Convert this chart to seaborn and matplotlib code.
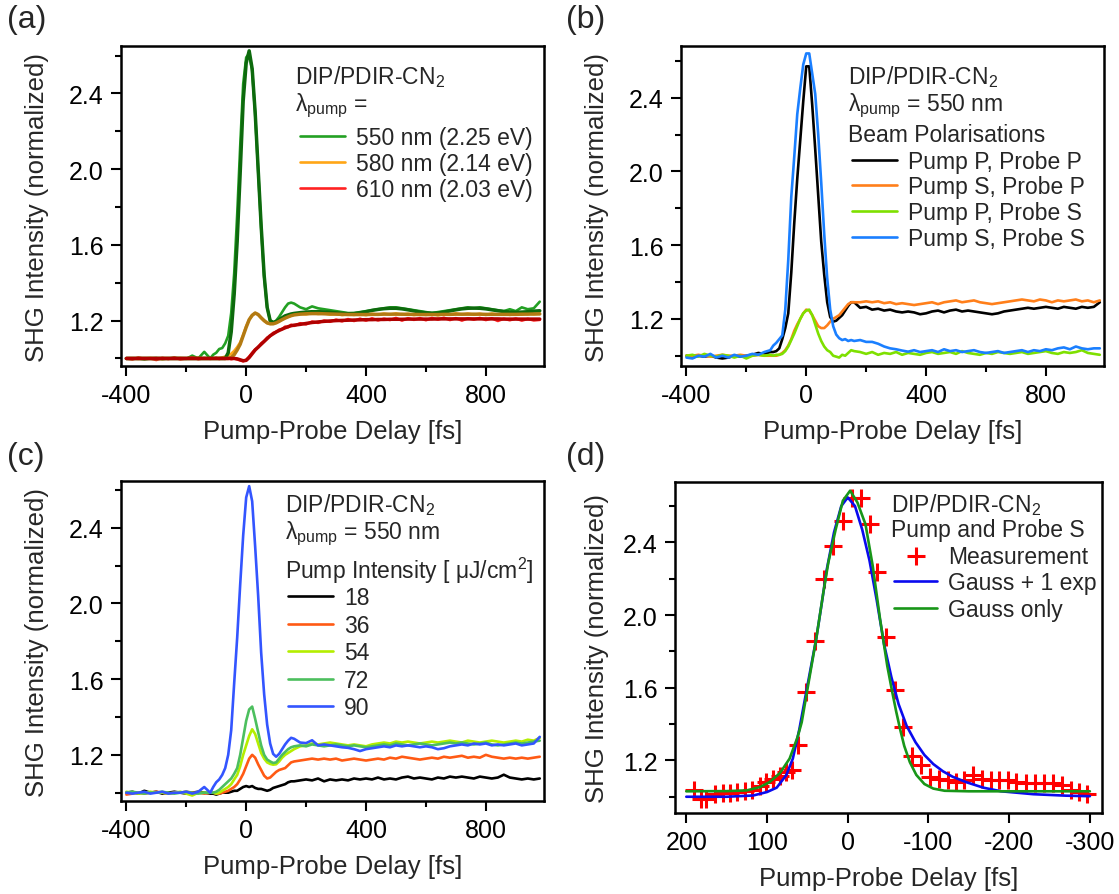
import numpy as np
import matplotlib
matplotlib.use("Agg")
import matplotlib.pyplot as plt
import seaborn as sns
from matplotlib.ticker import MultipleLocator, FormatStrFormatter

sns.set_style("ticks")
plt.rcParams["font.family"] = ["Liberation Sans", "DejaVu Sans"]
plt.rcParams["mathtext.fontset"] = "custom"
plt.rcParams["mathtext.rm"] = "Liberation Sans"
plt.rcParams["mathtext.it"] = "Liberation Sans:italic"
plt.rcParams["mathtext.default"] = "regular"
plt.rcParams["axes.unicode_minus"] = False

# delay grid of the measured traces (fs)
delay = np.concatenate([np.arange(-400, -119, 20),
                        np.arange(-110, 151, 10),
                        np.arange(160, 981, 20)])

# ---- (a) pump wavelength ----
a550_meas = ([1.0, 0.998, 1.0, 0.995, 1.0, 1.002, 0.997, 1.0, 1.003, 1.0, 0.998, 1.015, 1.0, 1.035, 1.0]
             + [1.02, 1.03, 1.05, 1.055, 1.08, 1.12, 1.24, 1.45, 1.76, 2.12, 2.45, 2.59, 2.61, 2.52, 2.29,
                1.99, 1.69, 1.43, 1.27, 1.2, 1.19, 1.2, 1.22, 1.245, 1.27, 1.29, 1.295]
             + [1.29, 1.27, 1.26, 1.275, 1.265, 1.26, 1.255, 1.25, 1.245, 1.24,
                1.24, 1.245, 1.25, 1.255, 1.26, 1.265, 1.27, 1.27, 1.265, 1.26,
                1.255, 1.25, 1.245, 1.24, 1.245, 1.25, 1.255, 1.26, 1.265, 1.27,
                1.265, 1.27, 1.265, 1.26, 1.255, 1.25, 1.26, 1.25, 1.27, 1.26, 1.265, 1.30])
a550_fit = ([1.0] * 15
            + [1.0, 1.0, 1.0, 1.0, 1.0, 1.03, 1.14, 1.34, 1.62, 1.98, 2.36, 2.56, 2.625, 2.53, 2.3,
               2.0, 1.7, 1.44, 1.27, 1.2, 1.19, 1.195, 1.205, 1.215, 1.225, 1.23, 1.235]
            + [1.238, 1.242, 1.245, 1.247, 1.247, 1.246, 1.244, 1.241, 1.238, 1.236,
               1.237, 1.241, 1.247, 1.254, 1.259, 1.263, 1.265, 1.265, 1.262, 1.257,
               1.251, 1.245, 1.241, 1.239, 1.24, 1.245, 1.251, 1.257, 1.262, 1.265,
               1.266, 1.265, 1.262, 1.257, 1.252, 1.248, 1.245, 1.244, 1.245, 1.247, 1.25, 1.252])
a580_meas = ([1.0, 1.0, 0.998, 1.0, 1.002, 1.0, 0.997, 1.0, 1.0, 1.002, 1.0, 1.0, 1.003, 1.0, 1.0]
             + [1.0, 1.0, 1.002, 1.005, 1.01, 1.015, 1.025, 1.04, 1.06, 1.085, 1.125, 1.17, 1.205, 1.228, 1.24,
                1.232, 1.214, 1.198, 1.187, 1.183, 1.184, 1.19, 1.197, 1.206, 1.214, 1.22, 1.226]
             + [1.232, 1.236, 1.233, 1.24, 1.235, 1.238, 1.232, 1.236, 1.229, 1.234,
                1.23, 1.235, 1.229, 1.236, 1.231, 1.237, 1.232, 1.238, 1.231, 1.236,
                1.229, 1.235, 1.23, 1.236, 1.228, 1.235, 1.231, 1.238, 1.232, 1.237,
                1.231, 1.236, 1.23, 1.237, 1.232, 1.238, 1.23, 1.236, 1.232, 1.239, 1.233, 1.238])
a580_fit = ([1.0] * 15
            + [1.0, 1.0, 1.0, 1.0, 1.0, 1.0, 1.005, 1.02, 1.045, 1.075, 1.12, 1.165, 1.205, 1.228, 1.24,
               1.232, 1.215, 1.2, 1.188, 1.183, 1.183, 1.188, 1.196, 1.205, 1.213, 1.22, 1.226]
            + [1.23, 1.234, 1.236, 1.237, 1.237, 1.236, 1.235, 1.234, 1.233, 1.232,
               1.232, 1.232, 1.232, 1.233, 1.233, 1.234, 1.234, 1.234, 1.234, 1.233,
               1.233, 1.232, 1.232, 1.232, 1.232, 1.233, 1.233, 1.234, 1.234, 1.234,
               1.234, 1.234, 1.233, 1.233, 1.233, 1.233, 1.233, 1.233, 1.234, 1.234, 1.235, 1.235])
a610_meas = ([1.0, 0.995, 1.005, 0.998, 1.0, 0.992, 1.003, 0.997, 1.005, 0.995, 1.0, 1.006, 0.996, 1.002, 0.998]
             + [1.0, 1.004, 0.997, 1.002, 0.998, 1.003, 0.996, 1.0, 0.995, 0.99, 0.985, 0.993, 1.01, 1.03, 1.048,
                1.058, 1.08, 1.092, 1.11, 1.118, 1.135, 1.14, 1.152, 1.155, 1.168, 1.165, 1.178]
             + [1.172, 1.186, 1.18, 1.195, 1.188, 1.2, 1.194, 1.205, 1.196, 1.208,
                1.198, 1.21, 1.2, 1.212, 1.201, 1.21, 1.203, 1.214, 1.2, 1.212,
                1.204, 1.213, 1.202, 1.214, 1.205, 1.215, 1.203, 1.213, 1.2, 1.212,
                1.205, 1.214, 1.203, 1.212, 1.198, 1.21, 1.202, 1.211, 1.2, 1.209, 1.201, 1.204])
a610_fit = ([1.0] * 15
            + [1.0, 1.0, 1.0, 1.0, 1.0, 1.0, 1.0, 1.0, 0.998, 0.993, 0.988, 0.99, 1.005, 1.025, 1.045,
               1.06, 1.075, 1.09, 1.105, 1.12, 1.13, 1.14, 1.148, 1.155, 1.162, 1.168, 1.173]
            + [1.176, 1.18, 1.185, 1.19, 1.193, 1.196, 1.198, 1.2, 1.201, 1.202,
               1.203, 1.204, 1.205, 1.205, 1.206, 1.206, 1.207, 1.207, 1.207, 1.208,
               1.208, 1.208, 1.208, 1.208, 1.209, 1.209, 1.209, 1.209, 1.209, 1.209,
               1.209, 1.209, 1.209, 1.209, 1.209, 1.208, 1.208, 1.208, 1.208, 1.208, 1.208, 1.208])
a_labels = ["550 nm (2.25 eV)", "580 nm (2.14 eV)", "610 nm (2.03 eV)"]

# ---- (b) beam polarisations ----
b_pp = ([1.0, 0.99, 1.0, 0.995, 1.0, 0.99, 0.985, 0.99, 1.0, 0.995, 1.0, 1.005, 1.015, 1.01, 1.02]
        + [1.02, 1.025, 1.04, 1.09, 1.15, 1.23, 1.45, 1.72, 1.96, 2.17, 2.38, 2.57, 2.57, 2.36, 2.12,
           1.87, 1.62, 1.44, 1.29, 1.21, 1.185, 1.19, 1.205, 1.22, 1.245, 1.27, 1.29]
        + [1.29, 1.26, 1.265, 1.25, 1.255, 1.245, 1.25, 1.24, 1.235, 1.24,
           1.235, 1.225, 1.23, 1.24, 1.245, 1.235, 1.245, 1.25, 1.24, 1.245,
           1.24, 1.235, 1.23, 1.225, 1.23, 1.24, 1.245, 1.25, 1.255, 1.26,
           1.255, 1.26, 1.265, 1.26, 1.255, 1.265, 1.26, 1.255, 1.265, 1.26, 1.265, 1.29])
b_sp = ([1.0, 1.0, 1.005, 1.0, 0.995, 1.0, 1.005, 1.0, 1.0, 1.005, 1.0, 1.0, 1.005, 1.0, 1.0]
        + [1.0, 1.0, 1.005, 1.015, 1.03, 1.055, 1.09, 1.135, 1.17, 1.2, 1.23, 1.25, 1.245, 1.22, 1.19,
           1.16, 1.15, 1.15, 1.165, 1.185, 1.2, 1.21, 1.22, 1.24, 1.26, 1.28, 1.29]
        + [1.29, 1.29, 1.295, 1.29, 1.295, 1.285, 1.29, 1.28, 1.285, 1.28,
           1.275, 1.28, 1.285, 1.29, 1.28, 1.29, 1.295, 1.3, 1.29, 1.295,
           1.3, 1.29, 1.285, 1.28, 1.285, 1.29, 1.295, 1.3, 1.305, 1.3,
           1.295, 1.305, 1.3, 1.29, 1.3, 1.295, 1.3, 1.305, 1.295, 1.3, 1.29, 1.3])
b_ps = ([1.0, 1.005, 0.995, 1.01, 1.0, 0.995, 1.005, 1.0, 0.99, 1.0, 0.985, 1.0, 1.005, 1.0, 1.005]
        + [1.0, 1.005, 1.005, 1.01, 1.025, 1.05, 1.085, 1.12, 1.16, 1.2, 1.23, 1.245, 1.25, 1.22, 1.17,
           1.12, 1.08, 1.05, 1.03, 1.02, 1.0, 0.995, 0.99, 1.005, 1.0, 1.015, 1.03]
        + [1.025, 1.02, 1.01, 1.02, 1.005, 1.015, 1.01, 1.02, 1.005, 1.015,
           1.01, 1.005, 1.015, 1.02, 1.01, 1.015, 1.02, 1.01, 1.025, 1.015,
           1.01, 1.005, 1.015, 1.01, 1.02, 1.015, 1.01, 1.015, 1.02, 1.01,
           1.015, 1.02, 1.025, 1.015, 1.01, 1.02, 1.015, 1.02, 1.03, 1.015, 1.01, 1.005])
b_ss = ([0.99, 0.985, 1.0, 0.995, 1.01, 0.99, 1.0, 0.99, 1.005, 0.995, 1.0, 1.01, 1.005, 1.02, 1.03]
        + [1.055, 1.07, 1.09, 1.11, 1.25, 1.52, 1.86, 2.08, 2.31, 2.45, 2.58, 2.64, 2.64, 2.53, 2.42,
           2.2, 1.94, 1.66, 1.42, 1.25, 1.16, 1.115, 1.095, 1.085, 1.09, 1.08, 1.085]
        + [1.08, 1.085, 1.075, 1.075, 1.065, 1.05, 1.04, 1.035, 1.028, 1.022,
           1.03, 1.02, 1.025, 1.03, 1.02, 1.035, 1.025, 1.03, 1.02, 1.025,
           1.03, 1.02, 1.015, 1.02, 1.025, 1.015, 1.02, 1.025, 1.03, 1.02,
           1.03, 1.025, 1.035, 1.03, 1.04, 1.045, 1.035, 1.05, 1.04, 1.035, 1.04, 1.04])
b_labels = ["Pump P, Probe P", "Pump S, Probe P", "Pump P, Probe S", "Pump S, Probe S"]

# ---- (c) pump intensity ----
c18 = ([1.0, 1.005, 0.995, 1.01, 1.0, 1.005, 0.995, 1.0, 1.005, 1.0, 0.995, 1.0, 1.005, 1.0, 0.995]
       + [0.995, 0.99, 0.995, 1.0, 1.0, 1.0, 1.005, 1.01, 1.01, 1.02, 1.03, 1.035, 1.03, 1.035, 1.025,
          1.02, 1.02, 1.015, 1.01, 1.015, 1.025, 1.03, 1.035, 1.04, 1.045, 1.055, 1.06]
       + [1.06, 1.065, 1.07, 1.065, 1.075, 1.06, 1.07, 1.065, 1.07, 1.065,
          1.075, 1.07, 1.075, 1.07, 1.08, 1.07, 1.075, 1.07, 1.08, 1.085,
          1.075, 1.08, 1.075, 1.07, 1.08, 1.075, 1.085, 1.08, 1.085, 1.08,
          1.075, 1.085, 1.08, 1.075, 1.08, 1.095, 1.08, 1.075, 1.07, 1.075, 1.07, 1.075])
c36 = ([0.99, 0.995, 1.0, 0.995, 1.0, 1.005, 1.0, 0.995, 1.0, 1.0, 1.005, 1.0, 1.0, 0.995, 1.0]
       + [1.0, 0.995, 0.995, 1.0, 1.005, 1.01, 1.02, 1.03, 1.045, 1.07, 1.1, 1.14, 1.18, 1.2, 1.185,
          1.15, 1.12, 1.09, 1.075, 1.08, 1.095, 1.11, 1.12, 1.125, 1.13, 1.145, 1.16]
       + [1.165, 1.17, 1.175, 1.18, 1.175, 1.18, 1.175, 1.18, 1.17, 1.175,
          1.18, 1.175, 1.17, 1.175, 1.18, 1.175, 1.185, 1.18, 1.19, 1.185,
          1.18, 1.175, 1.18, 1.185, 1.18, 1.19, 1.185, 1.19, 1.195, 1.185,
          1.19, 1.185, 1.2, 1.19, 1.185, 1.18, 1.185, 1.18, 1.185, 1.18, 1.185, 1.19])
c54 = ([1.005, 1.0, 0.995, 1.0, 1.005, 1.0, 1.0, 0.995, 1.0, 1.005, 0.995, 0.985, 1.0, 1.0, 1.0]
       + [1.0, 0.995, 1.0, 1.01, 1.02, 1.03, 1.045, 1.07, 1.094, 1.14, 1.2, 1.25, 1.3, 1.335, 1.31,
          1.26, 1.21, 1.18, 1.16, 1.152, 1.148, 1.15, 1.165, 1.185, 1.2, 1.21, 1.22]
       + [1.23, 1.245, 1.25, 1.26, 1.255, 1.26, 1.265, 1.26, 1.255, 1.25,
          1.255, 1.25, 1.245, 1.255, 1.26, 1.265, 1.26, 1.27, 1.265, 1.27,
          1.265, 1.26, 1.265, 1.27, 1.265, 1.27, 1.275, 1.27, 1.265, 1.275,
          1.27, 1.265, 1.27, 1.275, 1.27, 1.265, 1.27, 1.275, 1.27, 1.28, 1.275, 1.29])
c72 = ([1.0, 1.005, 1.0, 0.995, 1.0, 1.0, 1.005, 1.0, 0.995, 1.0, 1.005, 1.0, 0.995, 1.0, 1.0]
       + [1.0, 1.005, 1.015, 1.03, 1.045, 1.06, 1.075, 1.1, 1.13, 1.2, 1.29, 1.38, 1.44, 1.455, 1.39,
          1.32, 1.25, 1.2, 1.175, 1.165, 1.157, 1.16, 1.18, 1.2, 1.215, 1.23, 1.24]
       + [1.245, 1.25, 1.245, 1.255, 1.25, 1.245, 1.25, 1.255, 1.25, 1.245,
          1.25, 1.245, 1.24, 1.245, 1.25, 1.255, 1.25, 1.26, 1.255, 1.25,
          1.255, 1.26, 1.255, 1.25, 1.255, 1.26, 1.265, 1.26, 1.265, 1.26,
          1.255, 1.26, 1.265, 1.255, 1.25, 1.255, 1.26, 1.265, 1.26, 1.265, 1.27, 1.275])
c90 = ([1.0, 0.995, 1.0, 1.005, 0.995, 1.0, 1.005, 0.995, 1.0, 1.0, 1.005, 0.995, 1.005, 1.03, 1.0]
       + [1.03, 1.055, 1.07, 1.094, 1.13, 1.2, 1.33, 1.58, 1.82, 2.1, 2.36, 2.56, 2.62, 2.54, 2.3,
          2.04, 1.74, 1.52, 1.36, 1.26, 1.205, 1.19, 1.205, 1.23, 1.255, 1.275, 1.29]
       + [1.285, 1.265, 1.262, 1.277, 1.25, 1.255, 1.25, 1.245, 1.24, 1.237,
          1.23, 1.22, 1.23, 1.235, 1.24, 1.245, 1.24, 1.25, 1.245, 1.25,
          1.245, 1.24, 1.245, 1.24, 1.23, 1.235, 1.245, 1.25, 1.255, 1.25,
          1.26, 1.255, 1.26, 1.25, 1.255, 1.25, 1.255, 1.26, 1.25, 1.255, 1.26, 1.295])
c_labels = ["18", "36", "54", "72", "90"]

# ---- (d) fit of the pump S / probe S trace ----
d_meas_x = [191, 182, 175, 165, 155, 146, 137, 127, 118, 109, 101, 93, 84, 77, 69, 62, 52, 41, 30,
            18, 6, -5, -16, -27, -36, -47, -58, -69, -80, -91, -102, -113, -124, -134, -144, -155,
            -166, -177, -188, -198, -209, -221, -232, -243, -254, -265, -276, -287, -297]
d_meas_y = [1.035, 0.99, 0.99, 1.015, 1.02, 1.02, 1.025, 1.03, 1.035, 1.06, 1.08, 1.10, 1.115, 1.135,
            1.145, 1.283, 1.576, 1.86, 2.20, 2.382, 2.519, 2.642, 2.642, 2.50, 2.235, 1.878, 1.585,
            1.383, 1.227, 1.173, 1.108, 1.099, 1.09, 1.08, 1.09, 1.118, 1.099, 1.09, 1.09, 1.09, 1.08,
            1.077, 1.077, 1.077, 1.077, 1.063, 1.035, 1.026, 1.017]
d_exp_x = [200, 150, 117, 100, 88, 76, 68, 60, 50, 39, 32, 26, 17, 8, 0, -9, -18, -27, -36, -45, -54,
           -63, -73, -84, -95, -106, -118, -130, -147, -168, -190, -230, -270, -300]
d_exp_y = [1.0, 1.0, 1.007, 1.026, 1.05, 1.12, 1.21, 1.37, 1.61, 1.87, 2.07, 2.25, 2.455, 2.60, 2.648,
           2.60, 2.47, 2.30, 2.08, 1.84, 1.66, 1.51, 1.39, 1.30, 1.23, 1.18, 1.14, 1.11, 1.08, 1.05,
           1.03, 1.014, 1.006, 1.003]
d_gauss_x = [200, 150, 125, 109, 97, 84, 72, 62, 57, 50, 39, 30, 24, 15, 6, -3, -12, -22, -31, -40,
             -49, -55, -60, -65, -70, -77, -85, -95, -106, -120, -150, -300]
d_gauss_y = [1.03, 1.031, 1.035, 1.053, 1.08, 1.13, 1.21, 1.33, 1.41, 1.59, 1.87, 2.13, 2.29, 2.47,
             2.63, 2.685, 2.62, 2.50, 2.27, 1.98, 1.72, 1.58, 1.47, 1.37, 1.28, 1.19, 1.12, 1.07,
             1.045, 1.033, 1.03, 1.03]

FS_TICK = 18
FS_LAB = 18.5
FS_LEG = 16.5

fig = plt.figure(figsize=(11.19, 8.95), dpi=100)
ax_a = fig.add_axes([0.1081, 0.5899, 0.378, 0.3575])
ax_b = fig.add_axes([0.6086, 0.5899, 0.378, 0.3575])
ax_c = fig.add_axes([0.1081, 0.1039, 0.378, 0.3575])
ax_d = fig.add_axes([0.6032, 0.0908, 0.3816, 0.370])


def style(ax, xmajor, xminor):
    for s in ax.spines.values():
        s.set_linewidth(1.8)
        s.set_color("black")
    ax.xaxis.set_major_locator(MultipleLocator(xmajor))
    if xminor:
        ax.xaxis.set_minor_locator(MultipleLocator(xminor))
    ax.yaxis.set_major_locator(MultipleLocator(0.4))
    ax.yaxis.set_minor_locator(MultipleLocator(0.2))
    ax.yaxis.set_major_formatter(FormatStrFormatter("%.1f"))
    ax.tick_params(which="major", direction="out", length=7.5, width=1.5,
                   labelsize=FS_TICK, pad=5, colors="black")
    ax.tick_params(which="minor", direction="out", length=4, width=1.5, colors="black")
    ax.tick_params(top=False, right=False, which="both")
    ax.set_xlabel("Pump-Probe Delay [fs]", fontsize=FS_LAB)
    ax.set_ylabel("SHG Intensity (normalized)", fontsize=FS_LAB)
    ax.xaxis.set_label_coords(0.5, -0.165)
    ax.yaxis.set_label_coords(-0.17, 0.5)


def header(ax, x, ys, texts):
    for y, t in zip(ys, texts):
        ax.text(x, y, t, transform=ax.transAxes, fontsize=FS_LEG, va="center", ha="left")


def legend(ax, x, top, hl=1.95, spacing=0.12):
    ax.legend(loc="upper left", bbox_to_anchor=(x, top), frameon=False, fontsize=FS_LEG,
              handlelength=hl, handletextpad=0.5, labelspacing=spacing, borderpad=0,
              borderaxespad=0)


# (a)
for meas, c_m, lab in [(a550_meas, "#23a023", a_labels[0]),
                       (a580_meas, "#ffa616", a_labels[1]),
                       (a610_meas, "#ff2222", a_labels[2])]:
    sns.lineplot(x=delay, y=meas, ax=ax_a, color=c_m, lw=1.9, label=lab)
for fit, c_f in [(a550_fit, "#0d6a0d"), (a580_fit, "#b37a12"), (a610_fit, "#b00000")]:
    sns.lineplot(x=delay, y=fit, ax=ax_a, color=c_f, lw=2.5, label="_nolegend_")
ax_a.set_xlim(-418, 994)
ax_a.set_ylim(0.96, 2.65)
style(ax_a, 400, 200)
header(ax_a, 0.411, [0.907, 0.815], ["DIP/PDIR-CN$_2$", "$\\lambda_{pump}$ ="])
legend(ax_a, 0.423, 0.75)

# (b)
for vals, col, lab in [(b_pp, "black", b_labels[0]), (b_sp, "#ff7f1a", b_labels[1]),
                       (b_ps, "#7ee000", b_labels[2]), (b_ss, "#1a7fff", b_labels[3])]:
    sns.lineplot(x=delay, y=vals, ax=ax_b, color=col, lw=1.9, label=lab)
ax_b.set_xlim(-418, 994)
ax_b.set_ylim(0.944, 2.68)
style(ax_b, 400, 200)
header(ax_b, 0.395, [0.907, 0.815, 0.725],
       ["DIP/PDIR-CN$_2$", "$\\lambda_{pump}$ = 550 nm", "Beam Polarisations"])
legend(ax_b, 0.404, 0.676)

# (c)
for vals, col, lab in [(c18, "black", c_labels[0]), (c36, "#ff5a14", c_labels[1]),
                       (c54, "#b4ee00", c_labels[2]), (c72, "#4cbf5e", c_labels[3]),
                       (c90, "#3355ff", c_labels[4])]:
    sns.lineplot(x=delay, y=vals, ax=ax_c, color=col, lw=1.9, label=lab)
ax_c.set_xlim(-418, 994)
ax_c.set_ylim(0.956, 2.647)
style(ax_c, 400, 200)
header(ax_c, 0.387, [0.927, 0.838, 0.722],
       ["DIP/PDIR-CN$_2$", "$\\lambda_{pump}$ = 550 nm", "Pump Intensity [ μJ/cm$^2$]"])
legend(ax_c, 0.395, 0.672, spacing=0.2)

# (d)
sns.scatterplot(x=d_meas_x, y=d_meas_y, ax=ax_d, marker="+", s=170, color="#ff0000",
                linewidth=2.2, label="Measurement")
sns.lineplot(x=d_exp_x, y=d_exp_y, ax=ax_d, color="#0a0aee", lw=1.9, label="Gauss + 1 exp")
sns.lineplot(x=d_gauss_x, y=d_gauss_y, ax=ax_d, color="#189618", lw=1.9, label="Gauss only")
ax_d.set_xlim(214, -315)
ax_d.set_ylim(0.912, 2.735)
style(ax_d, 100, None)
ax_d.xaxis.set_label_coords(0.5, -0.16)
ax_d.yaxis.set_label_coords(-0.155, 0.5)
header(ax_d, 0.506, [0.932, 0.856], ["DIP/PDIR-CN$_2$", "Pump and Probe S"])
legend(ax_d, 0.514, 0.81, hl=1.85, spacing=0.17)

for x, y, t in [(0.006, 0.994, "(a)"), (0.506, 0.994, "(b)"),
                (0.006, 0.506, "(c)"), (0.506, 0.506, "(d)")]:
    fig.text(x, y, t, fontsize=23, va="top", ha="left")

fig.savefig("out.png", dpi=100)
